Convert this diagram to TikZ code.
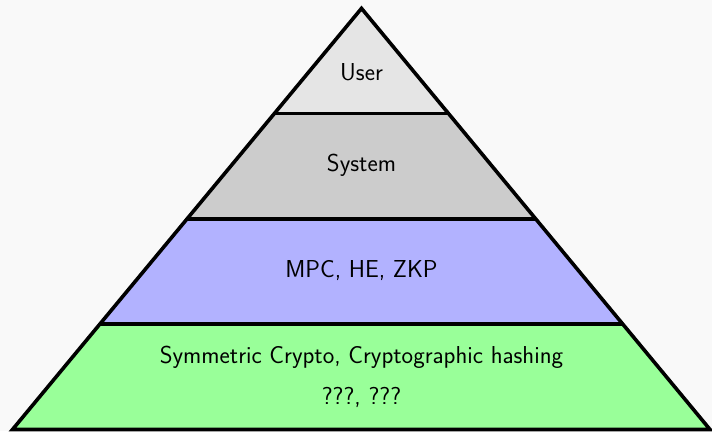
\documentclass[tikz,border=0pt]{standalone}
\usetikzlibrary{calc}
\definecolor{bgcol}{HTML}{F9F9F9}
\begin{document}
\begin{tikzpicture}[x=1pt,y=-1pt,
  layer/.style={draw=black, line width=3.6pt, line join=miter},
  lbl/.style={font=\sffamily\fontsize{24.5}{29}\selectfont, text=black, align=center, inner sep=0pt}]
\fill[bgcol] (0,0) rectangle (712,431);
\useasboundingbox (0,0) rectangle (712,431);
\coordinate (A) at (361.5,8.4);
\coordinate (L) at (12.5,429.5);
\coordinate (R) at (710,429.5);
\foreach \i/\c in {0/black!10, 1/black!20, 2/blue!30, 3/green!40} {
  \pgfmathsetmacro{\ta}{\i/4}
  \pgfmathsetmacro{\tb}{(\i+1)/4}
  \fill[\c] ($(A)!\ta!(L)$) -- ($(A)!\tb!(L)$) -- ($(A)!\tb!(R)$) -- ($(A)!\ta!(R)$) -- cycle;
}
\draw[layer] ($(A)!0.25!(L)$) -- ($(A)!0.25!(R)$);
\draw[layer] ($(A)!0.5!(L)$) -- ($(A)!0.5!(R)$);
\draw[layer] ($(A)!0.75!(L)$) -- ($(A)!0.75!(R)$);
\draw[layer] (A) -- (L) -- (R) -- cycle;
\node[lbl] (user) at (361.5,72) {User};
\node[lbl] (system) at (361.5,165) {System};
\node[lbl] (mpc) at (361.5,271) {MPC, HE, ZKP};
\node[lbl] (sym) at (361.5,357) {Symmetric Crypto, Cryptographic hashing};
\node[lbl] (qq) at (361.5,397) {???, ???};
\end{tikzpicture}
\end{document}
